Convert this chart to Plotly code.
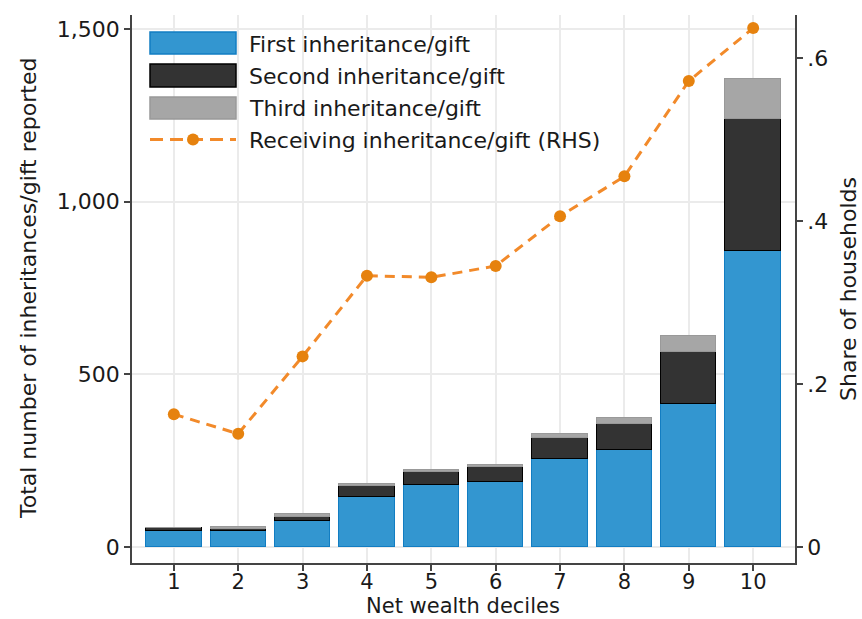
import plotly.graph_objects as go

deciles = [1, 2, 3, 4, 5, 6, 7, 8, 9, 10]
first_gift = [47, 47, 76, 144, 180, 189, 255, 281, 414, 857]
second_gift = [7, 5, 11, 33, 38, 43, 62, 75, 152, 383]
third_gift = [1, 5, 8, 5, 5, 7, 10, 17, 45, 115]
share_receiving = [0.163, 0.139, 0.234, 0.333, 0.331, 0.345, 0.406, 0.455, 0.572, 0.637]

left_ticks = [0, 500, 1000, 1500]
left_ticktext = ["0", "500", "1,000", "1,500"]
right_ticks = [0, 0.2, 0.4, 0.6]
right_ticktext = ["0", ".2", ".4", ".6"]

legend_labels = ["First inheritance/gift", "Second inheritance/gift",
                 "Third inheritance/gift", "Receiving inheritance/gift (RHS)"]
x_title = "Net wealth deciles"
y_title = "Total number of inheritances/gift reported"
y2_title = "Share of households"

FONT = "DejaVu Sans"
FS = 22
TXT = "#1a1a1a"
BLUE, BLUE_EDGE = "#3396d0", "#127dc2"
DARK, DARK_EDGE = "#333333", "#000000"
GRAY, GRAY_EDGE = "#a6a6a6", "#999999"
ORANGE_LINE, ORANGE_MK = "#f28a2a", "#e6820e"
AXIS = "#444444"
GRID = "#ebebeb"

W, H = 862, 619
L, R, T, B = 132, 67, 15, 56
PW, PH = W - L - R, H - T - B


def px(x):
    return (x - L) / PW


def py(y):
    return (H - B - y) / PH


fig = go.Figure()
fig.add_trace(go.Bar(x=deciles, y=first_gift, name=legend_labels[0], width=0.86,
                     marker=dict(color=BLUE, line=dict(color=BLUE_EDGE, width=1.5))))
fig.add_trace(go.Bar(x=deciles, y=second_gift, name=legend_labels[1], width=0.86,
                     marker=dict(color=DARK, line=dict(color=DARK_EDGE, width=1.5))))
fig.add_trace(go.Bar(x=deciles, y=third_gift, name=legend_labels[2], width=0.86,
                     marker=dict(color=GRAY, line=dict(color=GRAY_EDGE, width=1.5))))
fig.add_trace(go.Scatter(x=deciles, y=share_receiving, name=legend_labels[3], yaxis="y2",
                         mode="lines+markers",
                         line=dict(color=ORANGE_LINE, width=3, dash="10px,7px"),
                         marker=dict(color=ORANGE_MK, size=12)))

tfont = dict(family=FONT, size=FS, color=TXT)
shapes = []
annotations = []
# manual legend
rows = [(32, 54), (64, 87), (97, 119)]
fills = [(BLUE, BLUE_EDGE), (DARK, DARK_EDGE), (GRAY, GRAY_EDGE)]
for (y0, y1), (fc, lc), lab in zip(rows, fills, legend_labels[:3]):
    shapes.append(dict(type="rect", xref="paper", yref="paper",
                       x0=px(150), x1=px(236), y0=py(y1), y1=py(y0),
                       fillcolor=fc, line=dict(color=lc, width=1.5)))
    annotations.append(dict(xref="paper", yref="paper", x=px(247), y=py((y0 + y1) / 2 + 1),
                            text=lab, showarrow=False, xanchor="left", yanchor="middle",
                            font=tfont))
ly = 139.5
shapes.append(dict(type="line", xref="paper", yref="paper", x0=px(150), x1=px(236),
                   y0=py(ly), y1=py(ly), line=dict(color=ORANGE_LINE, width=3, dash="13px,7px")))
shapes.append(dict(type="circle", xref="paper", yref="paper", x0=px(187), x1=px(199),
                   y0=py(ly + 6), y1=py(ly - 6), fillcolor=ORANGE_MK, line=dict(width=0)))
annotations.append(dict(xref="paper", yref="paper", x=px(247), y=py(ly + 1),
                        text=legend_labels[3], showarrow=False, xanchor="left", yanchor="middle",
                        font=tfont))
# axis titles
annotations.append(dict(xref="paper", yref="paper", x=px(463), y=py(619), text=x_title,
                        showarrow=False, xanchor="center", yanchor="bottom", borderpad=0,
                        font=dict(family=FONT, size=21, color=TXT)))
annotations.append(dict(xref="paper", yref="paper", x=px(28), y=py(289), text=y_title,
                        showarrow=False, xanchor="center", yanchor="middle", textangle=-90,
                        font=tfont))
annotations.append(dict(xref="paper", yref="paper", x=px(848), y=py(289), text=y2_title,
                        showarrow=False, xanchor="center", yanchor="middle", textangle=-90,
                        font=tfont))

axis_common = dict(showline=True, linecolor=AXIS, linewidth=1.5, zeroline=False,
                   ticks="outside", ticklen=6, tickcolor=AXIS, tickwidth=1.5,
                   automargin=False)

fig.update_layout(
    width=W, height=H,
    margin=dict(l=L, r=R, t=T, b=B, autoexpand=False),
    paper_bgcolor="white", plot_bgcolor="white",
    barmode="stack", bargap=0,
    showlegend=False,
    font=tfont,
    shapes=shapes, annotations=annotations,
    xaxis=dict(range=[0.35, 10.65], tickmode="array", tickvals=deciles,
               ticktext=[str(d) for d in deciles], ticklabelstandoff=-7,
               tickfont=dict(family=FONT, size=21, color=TXT),
               showgrid=True, gridcolor=GRID, gridwidth=1.5, **axis_common),
    yaxis=dict(range=[-46, 1540], tickmode="array", tickvals=left_ticks, ticktext=left_ticktext,
               tickfont=tfont,
               showgrid=True, gridcolor=GRID, gridwidth=1.5, **axis_common),
    yaxis2=dict(range=[-0.0196, 0.653], overlaying="y", side="right",
                tickmode="array", tickvals=right_ticks, ticktext=right_ticktext,
                tickfont=tfont,
                showgrid=False, **axis_common),
)

fig.write_html("out.html")
